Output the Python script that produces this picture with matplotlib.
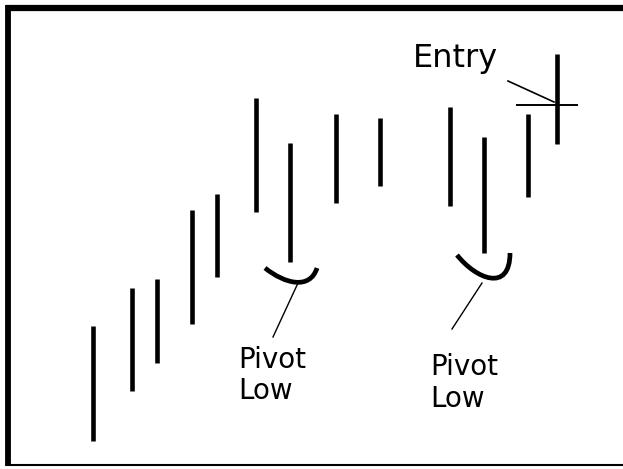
#!/usr/bin/env python3
"""
Pivot low / entry sketch: plain high-low bars drawn as vertical strokes,
two pivot lows marked with a smile and an entry tick on the last bar.
"""
import matplotlib
matplotlib.use("Agg")
import matplotlib.pyplot as plt
from matplotlib.path import Path
from matplotlib.patches import PathPatch

# bar positions and their high / low (pixel-like price units, up is higher)
bar_x = [93, 132, 157, 192, 217, 256, 290, 336, 380, 450, 484, 528, 557]
highs = [143, 181, 190, 259, 275, 371, 326, 355, 351, 362, 332, 355, 415]
lows = [28, 78, 106, 145, 192, 257, 207, 266, 283, 263, 216, 272, 325]

pivot_bars = [6, 10]          # index of the bars marked as pivot low
pivot_labels = ["Pivot", "Low"]
entry_bar = 12
entry_level = 364
entry_label = "Entry"


def smile(ax, x0, y0, x3, y3, c1, c2):
    verts = [(x0, y0), c1, c2, (x3, y3)]
    codes = [Path.MOVETO, Path.CURVE4, Path.CURVE4, Path.CURVE4]
    ax.add_patch(PathPatch(Path(verts, codes), fill=False, lw=3.4,
                           edgecolor="black", capstyle="butt"))


def main():
    fig = plt.figure(figsize=(6.23, 4.69), dpi=100)
    ax = fig.add_axes([0, 0, 1, 1])
    ax.set_xlim(0, 623)
    ax.set_ylim(0, 469)
    ax.axis("off")

    # frame (only top, left and bottom show in the scan)
    ax.plot([6, 623], [461.5, 461.5], color="black", lw=4.5, solid_capstyle="butt")
    ax.plot([8, 8], [464, 3], color="black", lw=4.2, solid_capstyle="butt")
    ax.plot([6, 623], [4, 4], color="black", lw=1.5, solid_capstyle="butt")

    ax.vlines(bar_x, lows, highs, colors="black", lw=3.3)

    # first pivot low
    px = bar_x[pivot_bars[0]]
    pl = lows[pivot_bars[0]]
    smile(ax, px - 25, pl - 6, px + 27, pl - 6, (px - 5, pl - 22), (px + 20, pl - 28))
    ax.plot([px + 8, px - 17], [pl - 21, pl - 75], color="black", lw=1.0)
    ax.text(px - 52, pl - 106, pivot_labels[0], fontsize=20, ha="left", va="baseline")
    ax.text(px - 52, pl - 137, pivot_labels[1], fontsize=20, ha="left", va="baseline")

    # second pivot low
    px = bar_x[pivot_bars[1]]
    pl = lows[pivot_bars[1]]
    smile(ax, px - 27, pl - 2, px + 26, pl, (px - 8, pl - 26), (px + 26, pl - 40))
    ax.plot([px - 2, px - 32], [pl - 30, pl - 76], color="black", lw=1.0)
    ax.text(px - 54, pl - 122, pivot_labels[0], fontsize=20, ha="left", va="baseline")
    ax.text(px - 54, pl - 154, pivot_labels[1], fontsize=20, ha="left", va="baseline")

    # entry tick on the last bar
    ex = bar_x[entry_bar]
    ax.plot([ex - 40, ex + 20], [entry_level, entry_level], color="black", lw=1.4)
    ax.plot([ex - 49, ex - 3], [388, entry_level + 3], color="black", lw=1.2)
    ax.text(413, 402, entry_label, fontsize=23, ha="left", va="baseline")

    fig.savefig("out.png", dpi=100)
    plt.close(fig)


if __name__ == "__main__":
    main()
